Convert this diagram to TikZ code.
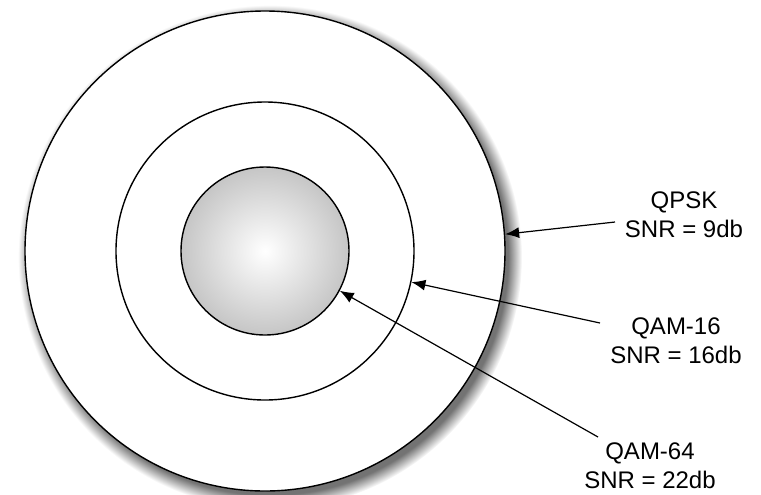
\documentclass[tikz,border=0pt]{standalone}
\usepackage{fontspec}
\setmainfont{Liberation Sans}
\usetikzlibrary{arrows.meta}

% soft grey halo that sits behind the outer ring
\pgfdeclareradialshading{ringshadow}{\pgfpointorigin}{color(0bp)=(black!55); color(23.6bp)=(black!55); color(25bp)=(white); color(50bp)=(white)}

\tikzset{
  ring/.style={circle, draw=black, line width=0.7pt, fill=white, inner sep=0pt},
  snrtext/.style={align=center, inner sep=2pt, font=\fontsize{12}{14.5}\selectfont},
  pointer/.style={-{Latex[length=7pt,width=5.5pt]}, line width=0.6pt}
}

\begin{document}
\begin{tikzpicture}[x=0.5pt, y=-0.5pt]
\useasboundingbox (0,0) rectangle (761,494);

% Shadow first, then the rings on top
\node[circle, inner sep=0pt, minimum size=252pt, shade, shading=ringshadow] (halo) at (270,257) {};
\node[ring, minimum size=240pt] (outer) at (265,251) {};
\node[ring, minimum size=149pt] (middle) at (265,251) {};
\node[ring, minimum size=84pt, inner color=white, outer color=gray!45] (inner) at (265,251) {};

% Labels
\node[snrtext] (qpsk) at (684,215) {QPSK\\SNR = 9db};
\node[snrtext] (qam16) at (676,341) {QAM-16\\SNR = 16db};
\node[snrtext] (qam64) at (650,466) {QAM-64\\SNR = 22db};

% Where the arrows leave the labels
\coordinate (qpsk-from) at (615,222);
\coordinate (qam16-from) at (600,323);
\coordinate (qam64-from) at (598,437);

\draw[pointer] (qpsk-from) -- (outer.4.7);
\draw[pointer] (qam16-from) -- (middle.-12.2);
\draw[pointer] (qam64-from) -- (inner.-28.6);

\end{tikzpicture}
\end{document}
